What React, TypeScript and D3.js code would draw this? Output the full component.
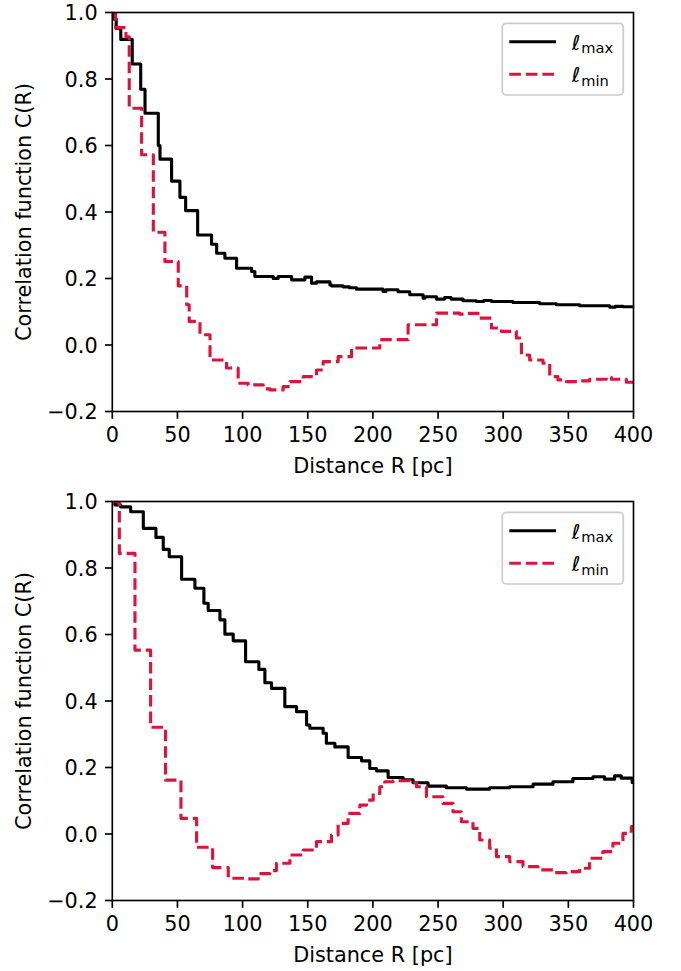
import React from "react";
import * as d3 from "d3";

// ---- Data ----
const X_TICKS = [0, 50, 100, 150, 200, 250, 300, 350, 400];
const Y_TICKS = [-0.2, 0.0, 0.2, 0.4, 0.6, 0.8, 1.0];
const SERIES_LABELS = ["max", "min"];

// Top panel, ℓmax (black solid), step-after
const TOP_MAX_R = [0, 1.5, 3, 6.5, 15.3, 21.8, 25.1, 35.3, 36.6, 45.5, 51.9, 56.3, 65.5, 76.2, 80.1, 86.4, 95.4, 106.9, 109.4, 123.5, 127.3, 137.6, 147.8, 152.9, 156.7, 167, 168.2, 177.1, 182, 187.4, 207.8, 210, 219.3, 228.3, 238.5, 240, 248.8, 255, 260, 269.2, 279.4, 285, 291, 307.5, 328, 340.8, 358.7, 381.7, 386, 392];
const TOP_MAX_C = [1.0, 0.98, 0.952, 0.919, 0.845, 0.769, 0.697, 0.6, 0.559, 0.493, 0.444, 0.404, 0.331, 0.303, 0.276, 0.261, 0.231, 0.221, 0.206, 0.2, 0.206, 0.196, 0.204, 0.186, 0.19, 0.181, 0.178, 0.175, 0.172, 0.168, 0.161, 0.166, 0.16, 0.151, 0.141, 0.145, 0.138, 0.143, 0.138, 0.133, 0.131, 0.134, 0.131, 0.128, 0.124, 0.121, 0.118, 0.114, 0.116, 0.115];

// Top panel, ℓmin (red dashed)
const TOP_MIN_R = [0, 2.5, 10.5, 13.0, 22.5, 31.5, 40.4, 50.6, 57.1, 59, 67.3, 75, 87.7, 96.6, 104.3, 115.8, 121, 131.1, 136.3, 146.5, 156.7, 161.8, 173.3, 183.6, 205.3, 227, 248.8, 266.6, 272, 282, 291, 298.6, 310.1, 314, 320.3, 330.5, 335.7, 342, 348.5, 358.7, 366.3, 379.1, 383, 394.5];
const TOP_MIN_C = [1.0, 0.955, 0.927, 0.712, 0.572, 0.339, 0.251, 0.178, 0.121, 0.071, 0.031, -0.045, -0.069, -0.115, -0.12, -0.132, -0.135, -0.125, -0.11, -0.095, -0.075, -0.05, -0.035, -0.009, 0.016, 0.061, 0.096, 0.093, 0.095, 0.081, 0.051, 0.041, 0.021, -0.03, -0.045, -0.055, -0.095, -0.105, -0.11, -0.108, -0.103, -0.097, -0.103, -0.112];

// Bottom panel, ℓmax
const BOT_MAX_R = [0, 2, 6.4, 14.1, 23.8, 33.5, 39.1, 43.7, 53.2, 63.4, 70.3, 73.6, 82.6, 86.4, 92.8, 102.3, 112.5, 117.1, 122.2, 132.4, 141.4, 149.1, 151.6, 161.8, 164.3, 170.8, 181, 191.3, 197.6, 202.8, 211.7, 223.2, 230.8, 242.3, 256.4, 271.8, 289.6, 305, 322.9, 338.2, 353.5, 368.9, 377.8, 385.5, 390.6, 399];
const BOT_MAX_C = [1.0, 0.99, 0.984, 0.969, 0.919, 0.892, 0.856, 0.834, 0.766, 0.739, 0.694, 0.672, 0.644, 0.601, 0.581, 0.518, 0.495, 0.455, 0.438, 0.383, 0.368, 0.328, 0.318, 0.303, 0.273, 0.262, 0.23, 0.22, 0.197, 0.19, 0.17, 0.163, 0.154, 0.144, 0.139, 0.135, 0.139, 0.142, 0.15, 0.157, 0.167, 0.172, 0.165, 0.175, 0.168, 0.155];

// Bottom panel, ℓmin
const BOT_MIN_R = [0, 5.4, 17.4, 29.4, 40.9, 52.7, 64.7, 77, 89, 103.1, 112, 121, 126, 136.3, 146.5, 156.7, 168.2, 173.3, 181, 190, 195.1, 200.2, 205.3, 209.1, 215.5, 228.3, 233.4, 241.1, 253.8, 261.5, 267.9, 276.8, 282, 289.6, 294.8, 305, 315.2, 326.7, 338.2, 348.5, 358.7, 366.3, 376.5, 384.2, 391.9, 398.3];
const BOT_MIN_C = [1.0, 0.844, 0.553, 0.321, 0.162, 0.047, -0.04, -0.101, -0.133, -0.135, -0.119, -0.11, -0.088, -0.063, -0.048, -0.023, -0.003, 0.032, 0.062, 0.087, 0.102, 0.122, 0.142, 0.157, 0.16, 0.155, 0.142, 0.112, 0.092, 0.067, 0.037, 0.017, -0.018, -0.043, -0.068, -0.083, -0.098, -0.108, -0.116, -0.113, -0.103, -0.073, -0.053, -0.028, 0.002, 0.022];

// ---- Layout / style ----
const W = 681;
const H = 971;
const FONT = "'DejaVu Sans', sans-serif";
const FS = 20.8;
const LW = 3.125;
const SPINE = 1.67;
const TICK = 7.3;
const RED = "#dc143c";
const X0 = 112.3;
const X1 = 633.5;
const PANELS = [
  { top: 12.5, bottom: 411.5, max: [TOP_MAX_R, TOP_MAX_C], min: [TOP_MIN_R, TOP_MIN_C] },
  { top: 501.5, bottom: 900.5, max: [BOT_MAX_R, BOT_MAX_C], min: [BOT_MIN_R, BOT_MIN_C] },
];

function fmtY(v: number) {
  const s = v.toFixed(1);
  return s.startsWith("-") ? "\u2212" + s.slice(1) : s;
}

function Panel({ p, idx }: { p: any; idx: number }) {
  const x = d3.scaleLinear().domain([0, 400]).range([X0, X1]);
  const y = d3.scaleLinear().domain([-0.2, 1.0]).range([p.bottom, p.top]);
  const line = d3
    .line<[number, number]>()
    .x((d) => x(d[0]))
    .y((d) => y(d[1]))
    .curve(d3.curveStepAfter);
  const mk = (rs: number[], cs: number[]) => {
    const pts: [number, number][] = rs.map((r, i) => [r, cs[i]]);
    pts.push([400, cs[cs.length - 1]]);
    return line(pts) || "";
  };
  const clipId = `clip${idx}`;
  const lgX = X1 - 10.2;
  const lgY = p.top + 10.8;
  const lgW = 121;
  const lgH = 71.7;
  const legendRows = [
    { label: SERIES_LABELS[0], color: "#000", dash: undefined as string | undefined, ly: lgY + 18.4 },
    { label: SERIES_LABELS[1], color: RED, dash: "11.56,5", ly: lgY + 51 },
  ];
  return (
    <g>
      <defs>
        <clipPath id={clipId}>
          <rect x={X0} y={p.top} width={X1 - X0} height={p.bottom - p.top} />
        </clipPath>
      </defs>
      <g clipPath={`url(#${clipId})`}>
        <path d={mk(p.max[0], p.max[1])} fill="none" stroke="#000" strokeWidth={LW} strokeLinejoin="round" />
        <path d={mk(p.min[0], p.min[1])} fill="none" stroke={RED} strokeWidth={LW} strokeDasharray="11.56,5" strokeLinejoin="round" />
      </g>
      {/* spines */}
      <rect x={X0} y={p.top} width={X1 - X0} height={p.bottom - p.top} fill="none" stroke="#000" strokeWidth={SPINE} />
      {/* x ticks */}
      {X_TICKS.map((t) => (
        <g key={"x" + t}>
          <line x1={x(t)} x2={x(t)} y1={p.bottom} y2={p.bottom + TICK} stroke="#000" strokeWidth={SPINE} />
          <text x={x(t)} y={p.bottom + 30.5} textAnchor="middle" fontFamily={FONT} fontSize={FS}>
            {t}
          </text>
        </g>
      ))}
      {/* y ticks */}
      {Y_TICKS.map((t) => (
        <g key={"y" + t}>
          <line x1={X0 - TICK} x2={X0} y1={y(t)} y2={y(t)} stroke="#000" strokeWidth={SPINE} />
          <text x={X0 - TICK - 7.3} y={y(t) + 7.6} textAnchor="end" fontFamily={FONT} fontSize={FS}>
            {fmtY(t)}
          </text>
        </g>
      ))}
      <text x={(X0 + X1) / 2} y={p.bottom + 61.8} textAnchor="middle" fontFamily={FONT} fontSize={FS}>
        Distance R [pc]
      </text>
      <text
        transform={`translate(30.5,${(p.top + p.bottom) / 2}) rotate(-90)`}
        textAnchor="middle"
        fontFamily={FONT}
        fontSize={FS}
      >
        Correlation function C(R)
      </text>
      {/* legend */}
      <rect x={lgX - lgW} y={lgY} width={lgW} height={lgH} rx={4} ry={4} fill="#fff" fillOpacity={0.8} stroke="#cccccc" strokeWidth={SPINE} />
      {legendRows.map((r) => (
        <g key={r.label}>
          <line x1={lgX - lgW + 7} x2={lgX - lgW + 53.7} y1={r.ly} y2={r.ly} stroke={r.color} strokeWidth={LW} strokeDasharray={r.dash} />
          <text x={lgX - lgW + 69.4} y={r.ly + 7.8} fontFamily={FONT} fontSize={FS}>
            <tspan fontStyle="italic">ℓ</tspan>
            <tspan fontSize={14.6} dx={1} dy={3.4}>
              {r.label}
            </tspan>
          </text>
        </g>
      ))}
    </g>
  );
}

export default function App() {
  return (
    <svg
      width={W}
      height={H}
      viewBox={`0 0 ${W} ${H}`}
      style={{ position: "absolute", left: 0, top: 0, background: "#fff" }}
    >
      <rect width={W} height={H} fill="#fff" />
      {PANELS.map((p, i) => (
        <Panel key={i} p={p} idx={i} />
      ))}
    </svg>
  );
}
